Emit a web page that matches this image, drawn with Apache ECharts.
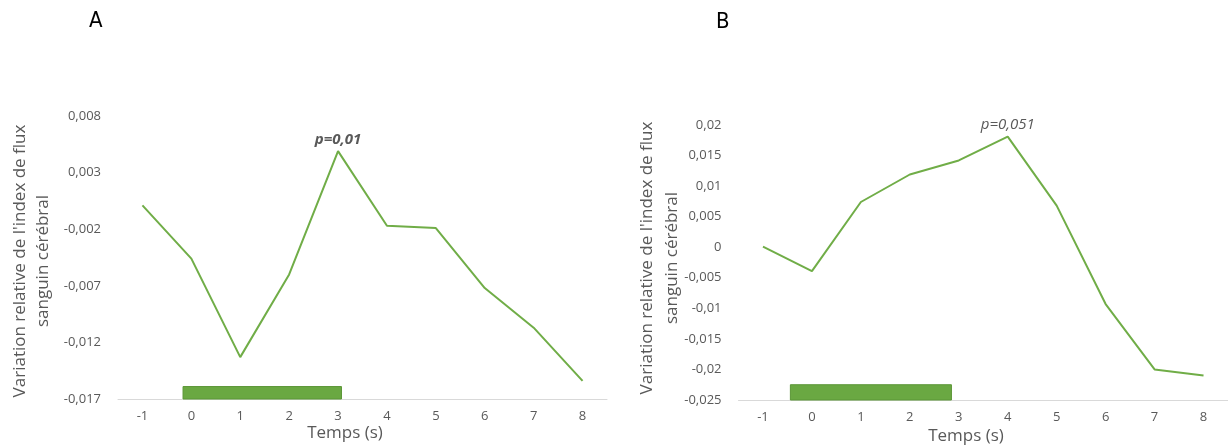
<!DOCTYPE html>
<html><head><meta charset="utf-8">
<script src="https://cdn.jsdelivr.net/npm/echarts@6/dist/echarts.min.js"></script>
<style>html,body{margin:0;padding:0;background:#fff}#c{width:1228px;height:446px}</style>
</head><body><div id="c"></div>
<script>
// ---- data ----
const categories = ['-1','0','1','2','3','4','5','6','7','8'];
const seriesA = [0.0001, -0.0046, -0.0133, -0.0060, 0.0049, -0.0017, -0.0019, -0.0072, -0.0107, -0.0154];
const seriesB = [0.0001, -0.0039, 0.0074, 0.0119, 0.0142, 0.0181, 0.0068, -0.0093, -0.0200, -0.0210];
const stimA = [-0.17, 3.07, -0.017, -0.0159];   // x start, x end (s), y bottom, y top
const stimB = [-0.44, 2.85, -0.025, -0.0225];
const yTicksA = {min: -0.017, max: 0.008, interval: 0.005};
const yTicksB = {min: -0.025, max: 0.02, interval: 0.005};
const annotA = {index: 4, text: 'p=0,01'};
const annotB = {index: 5, text: 'p=0,051'};
const yTitle = "Variation relative de l'index de flux\nsanguin cérébral";
const xTitle = 'Temps (s)';

const FONT = 'Open Sans';
const GRAY = '#595959';
const GREEN = '#70ad47';
const fmt = v => String(+v.toFixed(4)).replace('.', ',');

function stimSeries(xi, yi, d){
  return {
    type: 'custom', xAxisIndex: xi, yAxisIndex: yi, silent: true, z: 1,
    data: [d],
    renderItem: (params, api) => {
      const p0 = api.coord([api.value(0), api.value(3)]);
      const p1 = api.coord([api.value(1), api.value(2)]);
      return {type: 'rect', shape: {x: p0[0], y: p0[1], width: p1[0]-p0[0], height: p1[1]-p0[1]},
        style: {fill: '#6aa842', stroke: '#5b9636', lineWidth: 1}};
    }
  };
}
function lineSeries(xi, yi, data, annot, bold){
  return {
    type: 'line', xAxisIndex: xi, yAxisIndex: yi, data: data, symbol: 'none', z: 3,
    lineStyle: {color: GREEN, width: 2}, itemStyle: {color: GREEN},
    markPoint: {symbol: 'circle', symbolSize: 0,
      data: [{coord: [annot.index, data[annot.index]],
        label: {show: true, formatter: annot.text, position: 'top', distance: 4,
          color: GRAY, fontStyle: 'italic', fontWeight: bold ? 'bold' : 'normal', fontSize: 15, fontFamily: FONT}}]}
  };
}
const catAxis = (gi) => ({
  type: 'category', gridIndex: gi, data: categories, boundaryGap: true,
  axisLine: {onZero: false, lineStyle: {color: '#d9d9d9', width: 1}}, axisTick: {show: false},
  axisLabel: {color: GRAY, fontSize: 13, fontFamily: FONT, margin: 11}
});
const valXAxis = (gi) => ({type: 'value', gridIndex: gi, min: -1.5, max: 8.5, show: false, axisLine: {onZero: false}});
const valYAxis = (gi, t) => ({
  type: 'value', gridIndex: gi, min: t.min, max: t.max, interval: t.interval,
  splitLine: {show: false}, axisLine: {show: false}, axisTick: {show: false},
  axisLabel: {color: GRAY, fontSize: 13, fontFamily: FONT, margin: 17, formatter: fmt}
});

const chart = echarts.init(document.getElementById('c'), null, {renderer: 'canvas'});
chart.setOption({
  backgroundColor: '#fff',
  animation: false,
  grid: [
    {left: 118, width: 489, top: 116, height: 283},
    {left: 738.5, width: 490, top: 125, height: 275}
  ],
  xAxis: [catAxis(0), catAxis(1), valXAxis(0), valXAxis(1)],
  yAxis: [valYAxis(0, yTicksA), valYAxis(1, yTicksB)],
  series: [
    stimSeries(2, 0, stimA),
    stimSeries(3, 1, stimB),
    lineSeries(0, 0, seriesA, annotA, true),
    lineSeries(1, 1, seriesB, annotB, false)
  ],
  graphic: [
    {type: 'text', left: 89, top: 10, style: {text: 'A', fontSize: 22, fontFamily: 'Liberation Sans Narrow, DejaVu Sans Condensed', fill: '#000'}},
    {type: 'text', left: 716, top: 11, style: {text: 'B', fontSize: 22, fontFamily: 'Liberation Sans Narrow, DejaVu Sans Condensed', fill: '#000'}},
    {type: 'text', x: 32, y: 261, rotation: Math.PI/2,
      style: {text: yTitle, fontSize: 17, fontFamily: FONT, fill: GRAY, align: 'center', verticalAlign: 'middle', lineHeight: 23}},
    {type: 'text', x: 660, y: 258, rotation: Math.PI/2,
      style: {text: yTitle, fontSize: 17, fontFamily: FONT, fill: GRAY, align: 'center', verticalAlign: 'middle', lineHeight: 25}},
    {type: 'text', x: 345, y: 433, style: {text: xTitle, fontSize: 17, fontFamily: FONT, fill: GRAY, align: 'center', verticalAlign: 'middle'}},
    {type: 'text', x: 966, y: 436, style: {text: xTitle, fontSize: 17, fontFamily: FONT, fill: GRAY, align: 'center', verticalAlign: 'middle'}}
  ]
});
</script></body></html>
